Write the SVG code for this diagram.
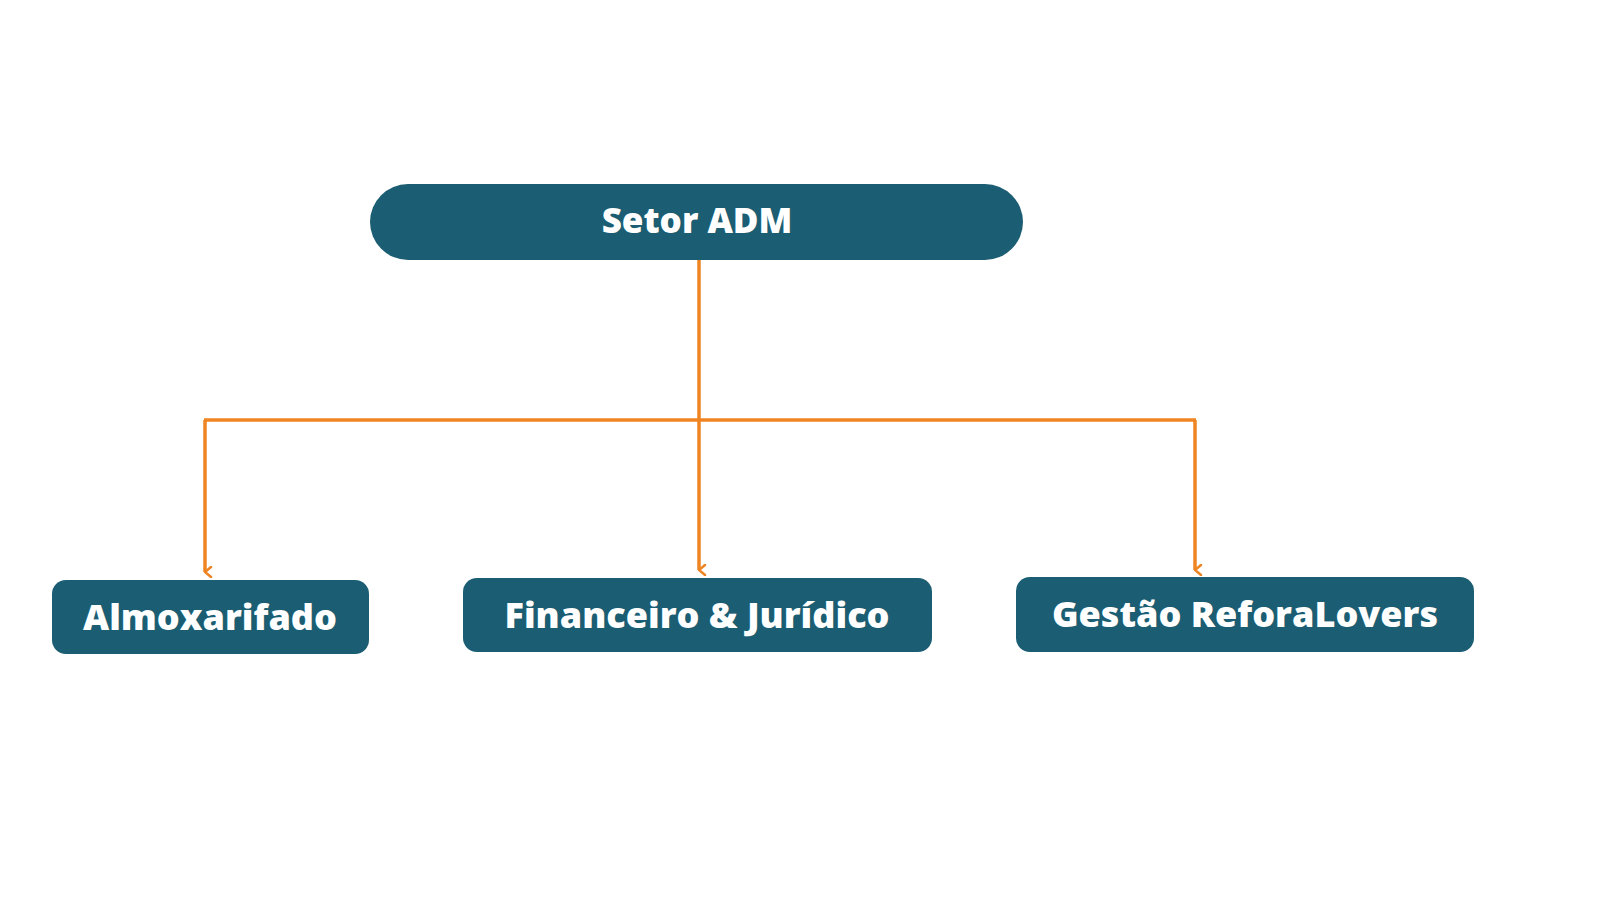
<svg xmlns="http://www.w3.org/2000/svg" width="1600" height="900" viewBox="0 0 1600 900">
<defs>
<style>
.box{fill:#1b5d72}
.t{fill:#fff;font-family:"Open Sans","Noto Sans",sans-serif;font-weight:800;text-anchor:middle}
.c{stroke:#ee8422;stroke-width:3.5;fill:none}
</style>
<marker id="a" viewBox="0 0 12 12" refX="6" refY="11" markerWidth="12" markerHeight="12" markerUnits="userSpaceOnUse" orient="auto-start-reverse">
<path d="M1 5 L6 11 L11 5" fill="none" stroke="#ee8422" stroke-width="2.5" stroke-linecap="round"/>
</marker>
</defs>
<rect width="1600" height="900" fill="#fff"/>
<g id="connectors">
<path class="c" d="M699 260 V420"/>
<path class="c" d="M204 420 H1196"/>
<path class="c" d="M205 420 V572" marker-end="url(#a)"/>
<path class="c" d="M699 420 V570" marker-end="url(#a)"/>
<path class="c" d="M1195 420 V570" marker-end="url(#a)"/>
</g>
<g id="setor-adm"><rect class="box" x="370" y="184" width="653" height="76" rx="38"/><text class="t" x="697" y="233" font-size="35" font-weight="700">Setor ADM</text></g>
<g id="almoxarifado"><rect class="box" x="52" y="580" width="317" height="74" rx="14"/><text class="t" x="210" y="630" font-size="36">Almoxarifado</text></g>
<g id="financeiro"><rect class="box" x="463" y="578" width="469" height="74" rx="14"/><text class="t" x="697" y="628" font-size="36">Financeiro &amp; Jurídico</text></g>
<g id="gestao"><rect class="box" x="1016" y="577" width="458" height="75" rx="14"/><text class="t" x="1245" y="627" font-size="36">Gestão ReforaLovers</text></g>
</svg>
